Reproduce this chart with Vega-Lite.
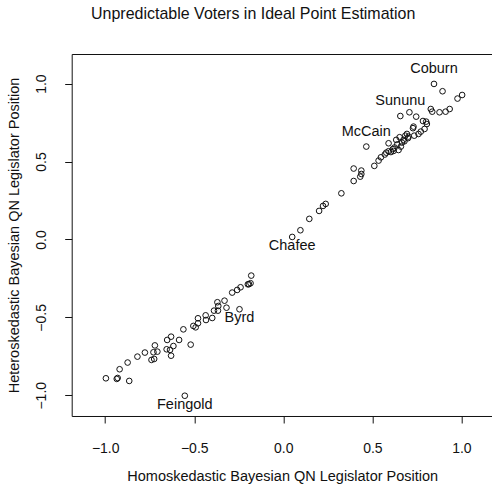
{
  "$schema": "https://vega.github.io/schema/vega-lite/v6.json",
  "width": 421,
  "height": 362,
  "autosize": {"type": "none"},
  "padding": {"left": 71.7, "top": 54, "right": 0, "bottom": 69},
  "background": "white",
  "title": {
    "text": "Unpredictable Voters in Ideal Point Estimation",
    "anchor": "middle",
    "frame": "group",
    "dx": -29,
    "offset": 32,
    "fontSize": 16,
    "fontWeight": "normal",
    "font": "Liberation Sans",
    "color": "#111"
  },
  "data": {
    "values": [
      {"x": -0.996, "y": -0.891, "name": ""},
      {"x": -0.935, "y": -0.895, "name": ""},
      {"x": -0.930, "y": -0.889, "name": ""},
      {"x": -0.865, "y": -0.908, "name": ""},
      {"x": -0.919, "y": -0.833, "name": ""},
      {"x": -0.874, "y": -0.790, "name": ""},
      {"x": -0.819, "y": -0.752, "name": ""},
      {"x": -0.777, "y": -0.726, "name": ""},
      {"x": -0.740, "y": -0.773, "name": ""},
      {"x": -0.725, "y": -0.767, "name": ""},
      {"x": -0.721, "y": -0.680, "name": ""},
      {"x": -0.729, "y": -0.724, "name": ""},
      {"x": -0.707, "y": -0.720, "name": ""},
      {"x": -0.655, "y": -0.705, "name": ""},
      {"x": -0.652, "y": -0.645, "name": ""},
      {"x": -0.630, "y": -0.624, "name": ""},
      {"x": -0.636, "y": -0.709, "name": ""},
      {"x": -0.630, "y": -0.746, "name": ""},
      {"x": -0.617, "y": -0.684, "name": ""},
      {"x": -0.585, "y": -0.645, "name": ""},
      {"x": -0.561, "y": -0.577, "name": ""},
      {"x": -0.520, "y": -0.675, "name": ""},
      {"x": -0.505, "y": -0.555, "name": ""},
      {"x": -0.492, "y": -0.564, "name": ""},
      {"x": -0.479, "y": -0.506, "name": ""},
      {"x": -0.479, "y": -0.538, "name": ""},
      {"x": -0.436, "y": -0.487, "name": ""},
      {"x": -0.434, "y": -0.517, "name": ""},
      {"x": -0.399, "y": -0.504, "name": ""},
      {"x": -0.389, "y": -0.457, "name": ""},
      {"x": -0.367, "y": -0.457, "name": ""},
      {"x": -0.370, "y": -0.403, "name": ""},
      {"x": -0.365, "y": -0.427, "name": ""},
      {"x": -0.330, "y": -0.393, "name": ""},
      {"x": -0.319, "y": -0.438, "name": ""},
      {"x": -0.246, "y": -0.448, "name": "Byrd"},
      {"x": -0.287, "y": -0.341, "name": ""},
      {"x": -0.259, "y": -0.324, "name": ""},
      {"x": -0.240, "y": -0.307, "name": ""},
      {"x": -0.199, "y": -0.288, "name": ""},
      {"x": -0.184, "y": -0.281, "name": ""},
      {"x": -0.180, "y": -0.232, "name": ""},
      {"x": -0.193, "y": -0.287, "name": ""},
      {"x": -0.553, "y": -1.003, "name": "Feingold"},
      {"x": 0.050, "y": 0.016, "name": "Chafee"},
      {"x": 0.096, "y": 0.059, "name": ""},
      {"x": 0.146, "y": 0.132, "name": ""},
      {"x": 0.201, "y": 0.183, "name": ""},
      {"x": 0.223, "y": 0.215, "name": ""},
      {"x": 0.238, "y": 0.228, "name": ""},
      {"x": 0.326, "y": 0.296, "name": ""},
      {"x": 0.395, "y": 0.375, "name": ""},
      {"x": 0.395, "y": 0.455, "name": ""},
      {"x": 0.438, "y": 0.442, "name": ""},
      {"x": 0.438, "y": 0.420, "name": ""},
      {"x": 0.432, "y": 0.403, "name": ""},
      {"x": 0.466, "y": 0.596, "name": "McCain"},
      {"x": 0.511, "y": 0.472, "name": ""},
      {"x": 0.535, "y": 0.506, "name": ""},
      {"x": 0.548, "y": 0.527, "name": ""},
      {"x": 0.578, "y": 0.557, "name": ""},
      {"x": 0.591, "y": 0.566, "name": ""},
      {"x": 0.604, "y": 0.561, "name": ""},
      {"x": 0.591, "y": 0.617, "name": ""},
      {"x": 0.619, "y": 0.568, "name": ""},
      {"x": 0.634, "y": 0.639, "name": ""},
      {"x": 0.647, "y": 0.574, "name": ""},
      {"x": 0.653, "y": 0.656, "name": ""},
      {"x": 0.660, "y": 0.596, "name": ""},
      {"x": 0.666, "y": 0.622, "name": ""},
      {"x": 0.675, "y": 0.639, "name": ""},
      {"x": 0.685, "y": 0.666, "name": ""},
      {"x": 0.694, "y": 0.677, "name": ""},
      {"x": 0.703, "y": 0.660, "name": ""},
      {"x": 0.728, "y": 0.714, "name": ""},
      {"x": 0.735, "y": 0.666, "name": ""},
      {"x": 0.759, "y": 0.677, "name": ""},
      {"x": 0.772, "y": 0.692, "name": ""},
      {"x": 0.793, "y": 0.709, "name": ""},
      {"x": 0.784, "y": 0.760, "name": ""},
      {"x": 0.802, "y": 0.756, "name": ""},
      {"x": 0.657, "y": 0.792, "name": "Sununu"},
      {"x": 0.708, "y": 0.816, "name": ""},
      {"x": 0.746, "y": 0.788, "name": ""},
      {"x": 0.828, "y": 0.837, "name": ""},
      {"x": 0.836, "y": 0.820, "name": ""},
      {"x": 0.877, "y": 0.816, "name": ""},
      {"x": 0.911, "y": 0.820, "name": ""},
      {"x": 0.934, "y": 0.837, "name": ""},
      {"x": 0.846, "y": 0.998, "name": "Coburn"},
      {"x": 0.894, "y": 0.951, "name": ""},
      {"x": 0.978, "y": 0.904, "name": ""},
      {"x": 1.004, "y": 0.927, "name": ""},
      {"x": 0.625, "y": 0.590, "name": ""},
      {"x": 0.640, "y": 0.610, "name": ""},
      {"x": 0.680, "y": 0.630, "name": ""},
      {"x": 0.700, "y": 0.650, "name": ""},
      {"x": 0.570, "y": 0.545, "name": ""},
      {"x": 0.615, "y": 0.580, "name": ""},
      {"x": 0.731, "y": 0.724, "name": ""},
      {"x": 0.806, "y": 0.741, "name": ""}
    ]
  },
  "encoding": {
    "x": {
      "field": "x",
      "type": "quantitative",
      "scale": {"domain": [-1.188, 1.1755], "nice": false, "zero": false},
      "axis": {
        "title": "Homoskedastic Bayesian QN Legislator Position",
        "values": [-1, -0.5, 0, 0.5, 1],
        "format": ".1f",
        "labelPadding": 19,
        "titlePadding": 14
      }
    },
    "y": {
      "field": "y",
      "type": "quantitative",
      "scale": {"domain": [-1.133, 1.19], "nice": false, "zero": false},
      "axis": {
        "title": "Heteroskedastic Bayesian QN Legislator Position",
        "values": [-1, -0.5, 0, 0.5, 1],
        "format": ".1f",
        "labelAngle": 270,
        "labelAlign": "center",
        "labelBaseline": "bottom",
        "labelPadding": 16,
        "titlePadding": 13
      }
    }
  },
  "layer": [
    {
      "mark": {"type": "point", "shape": "circle", "filled": false, "size": 32, "stroke": "#111", "strokeWidth": 1, "opacity": 1}
    },
    {
      "transform": [{"filter": {"field": "name", "oneOf": ["Coburn", "Sununu", "McCain"]}}],
      "mark": {"type": "text", "dy": -15, "baseline": "middle", "align": "center", "fontSize": 14.5, "font": "Liberation Sans", "color": "#111"},
      "encoding": {"text": {"field": "name"}}
    },
    {
      "transform": [{"filter": {"field": "name", "oneOf": ["Chafee", "Byrd", "Feingold"]}}],
      "mark": {"type": "text", "dy": 9, "baseline": "middle", "align": "center", "fontSize": 14.5, "font": "Liberation Sans", "color": "#111"},
      "encoding": {"text": {"field": "name"}}
    }
  ],
  "config": {
    "view": {"stroke": "#111", "strokeWidth": 1},
    "axis": {
      "grid": false,
      "domain": false,
      "tickColor": "#111",
      "tickSize": 7,
      "tickWidth": 1,
      "labelColor": "#111",
      "labelFont": "Liberation Sans",
      "labelFontSize": 14,
      "titleFont": "Liberation Sans",
      "titleFontSize": 14.5,
      "titleFontWeight": "normal",
      "titleColor": "#111"
    }
  }
}
